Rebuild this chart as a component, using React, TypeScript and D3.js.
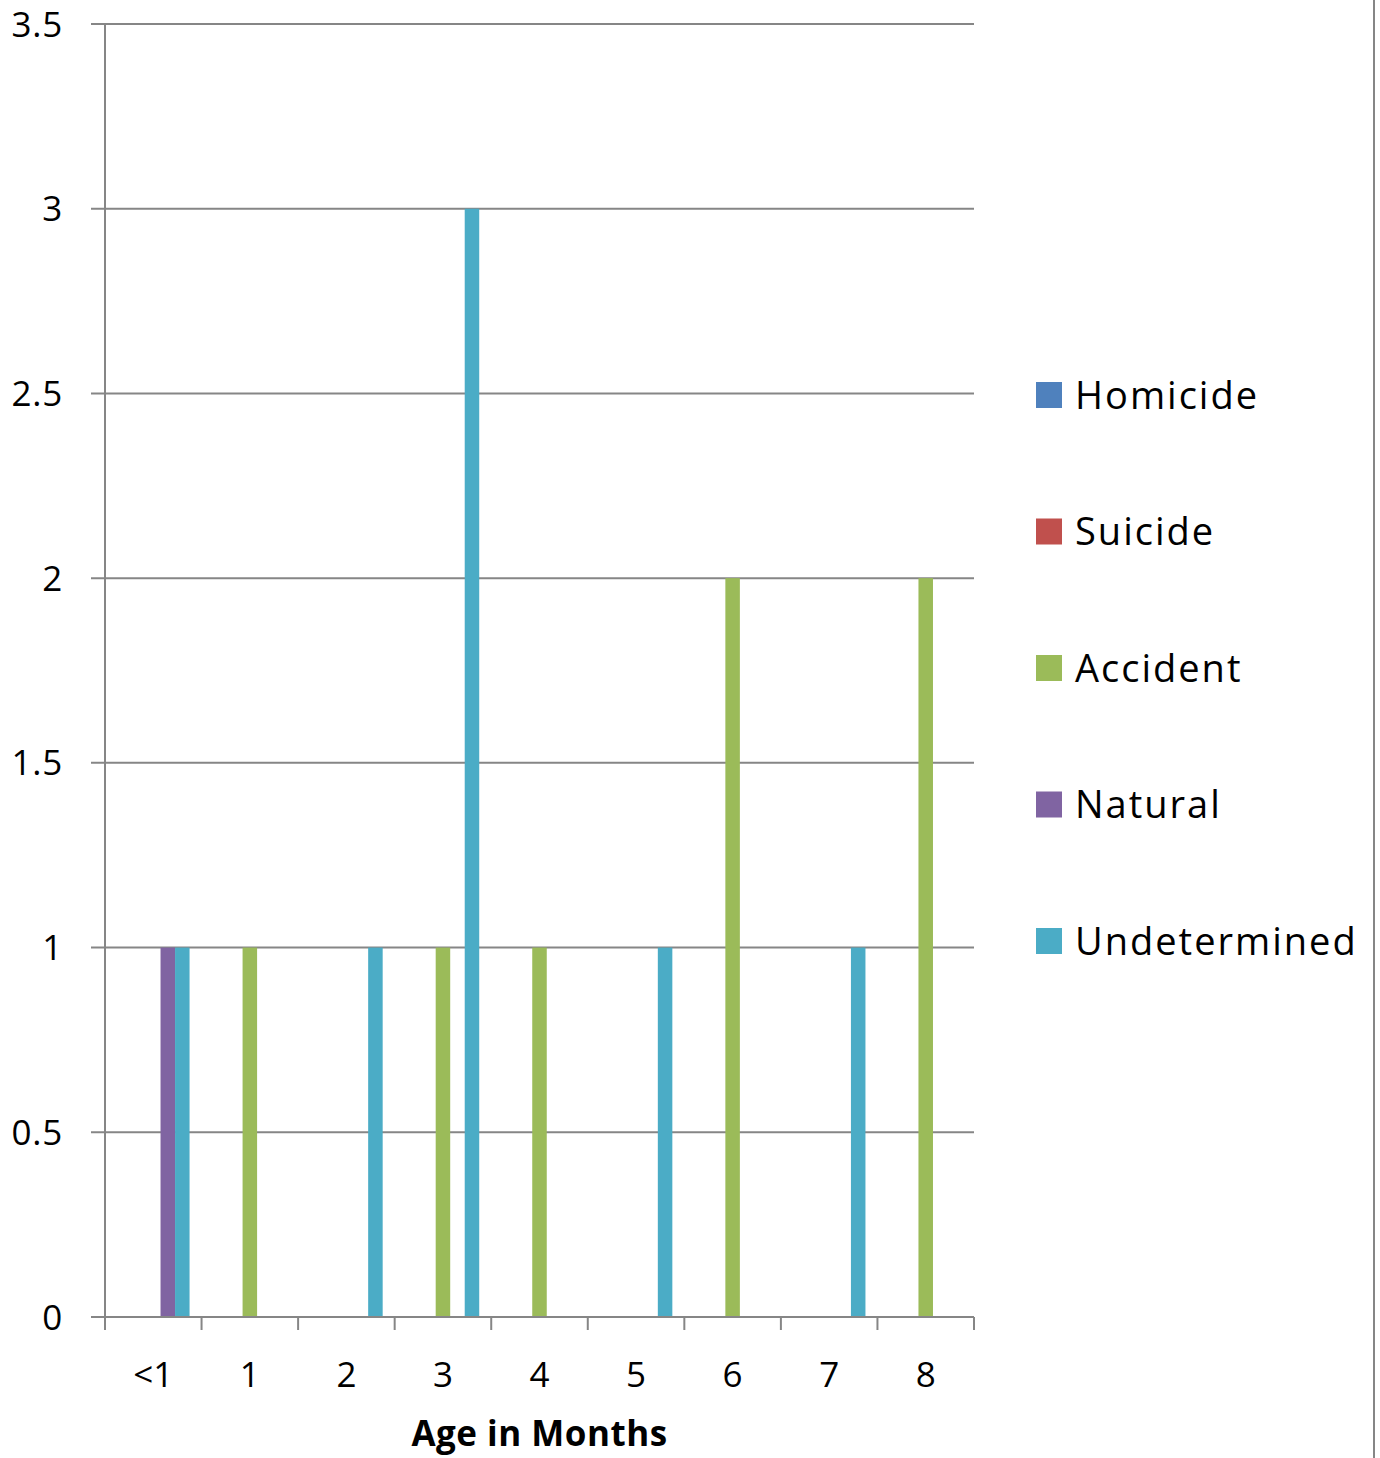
import React from "react";
import * as d3 from "d3";

const categories = ["<1", "1", "2", "3", "4", "5", "6", "7", "8"];
const seriesNames = ["Homicide", "Suicide", "Accident", "Natural", "Undetermined"];
const seriesColors = ["#4F81BD", "#C0504D", "#9BBB59", "#8064A2", "#4BACC6"];
const homicide = [0, 0, 0, 0, 0, 0, 0, 0, 0];
const suicide = [0, 0, 0, 0, 0, 0, 0, 0, 0];
const accident = [0, 1, 0, 1, 1, 0, 2, 0, 2];
const natural = [1, 0, 0, 0, 0, 0, 0, 0, 0];
const undetermined = [1, 0, 1, 3, 0, 1, 0, 1, 0];
const yTicks = [0, 0.5, 1, 1.5, 2, 2.5, 3, 3.5];
const xTitle = "Age in Months";

const seriesValues = [homicide, suicide, accident, natural, undetermined];

export default function App() {
  const W = 1380, H = 1458;
  const left = 105, right = 974, top = 24, bottom = 1317;
  const font = "'Open Sans', 'Liberation Sans', sans-serif";
  const grid = "#868686";

  const x0 = d3.scaleBand<string>().domain(categories).range([left, right]).paddingInner(0).paddingOuter(0);
  const gapFrac = 24 / 96.6;
  const x1 = d3.scaleBand<string>().domain(seriesNames).range([0, x0.bandwidth() * (1 - gapFrac)]);
  const offset = (x0.bandwidth() * gapFrac) / 2;
  const y = d3.scaleLinear().domain([0, 3.5]).range([bottom, top]);

  const tickXs = categories.map((c) => x0(c)!).concat([right]);

  return (
    <svg width={W} height={H} style={{ display: "block", position: "absolute", left: 0, top: 0 }}>
      <rect x={0} y={0} width={W} height={H} fill="#fff" />
      {yTicks.map((t) => (
        <g key={t}>
          <line x1={91} x2={right} y1={y(t)} y2={y(t)} stroke={grid} strokeWidth={2} />
          <text x={63} y={y(t)} dy="0.36em" textAnchor="end" fontFamily={font} fontSize={35} letterSpacing={0.8} fill="#000">
            {t}
          </text>
        </g>
      ))}
      <line x1={left} x2={left} y1={top} y2={bottom + 12} stroke={grid} strokeWidth={2} />
      {tickXs.map((tx, i) => (
        <line key={i} x1={tx} x2={tx} y1={bottom} y2={bottom + 13} stroke={grid} strokeWidth={2} />
      ))}
      {seriesValues.map((vals, si) =>
        vals.map((v, ci) =>
          v > 0 ? (
            <rect
              key={`${si}-${ci}`}
              x={x0(categories[ci])! + offset + x1(seriesNames[si])!}
              y={y(v)}
              width={x1.bandwidth()}
              height={y(0) - y(v)}
              fill={seriesColors[si]}
            />
          ) : null
        )
      )}
      <line x1={left - 2} x2={right} y1={bottom} y2={bottom} stroke={grid} strokeWidth={2} />
      {categories.map((c) => (
        <text key={c} x={x0(c)! + x0.bandwidth() / 2} y={1387} textAnchor="middle" fontFamily={font} fontSize={35} fill="#000">
          {c}
        </text>
      ))}
      <text x={(left + right) / 2} y={1446} textAnchor="middle" fontFamily={font} fontSize={35} fontWeight="bold" letterSpacing={0.5} fill="#000">
        {xTitle}
      </text>
      {seriesNames.map((s, i) => {
        const cy = 395 + i * 136.5;
        return (
          <g key={s}>
            <rect x={1036} y={cy - 13} width={26} height={26} fill={seriesColors[i]} />
            <text x={1075} y={cy} dy="0.36em" fontFamily={font} fontSize={38} letterSpacing={2} fill="#000">
              {s}
            </text>
          </g>
        );
      })}
      <line x1={1374} x2={1374} y1={0} y2={H} stroke={grid} strokeWidth={2} />
    </svg>
  );
}
